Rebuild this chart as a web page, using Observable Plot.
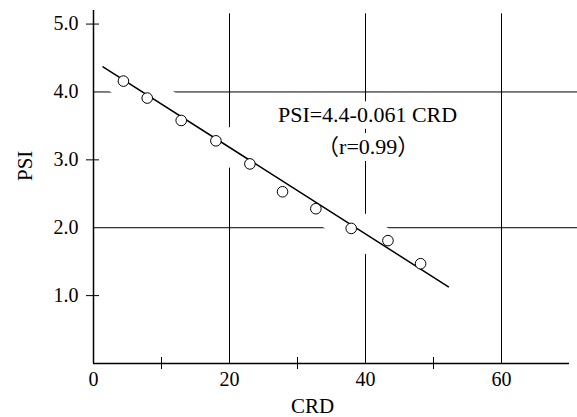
<!DOCTYPE html>
<html>
<head>
<meta charset="utf-8">
<script src="https://cdn.jsdelivr.net/npm/d3@7"></script>
<script src="https://cdn.jsdelivr.net/npm/@observablehq/plot@0.6"></script>
<style>
  html, body { margin: 0; padding: 0; background: white; }
</style>
</head>
<body>
<div id="chart"></div>
<script>
// Observed points
const crd = [4.4, 7.9, 12.9, 18.0, 23.0, 27.8, 32.7, 37.9, 43.3, 48.1];
const psi = [4.16, 3.91, 3.58, 3.28, 2.94, 2.53, 2.28, 1.99, 1.81, 1.47];
// Regression line end points as drawn
const fitCrd = [1.4, 52.2];
const fitPsi = [4.37, 1.13];
// Ticks and grid
const xTickLabels = [0, 20, 40, 60];
const xMinorTicks = [10, 30, 50];
const yTickLabels = [1, 2, 3, 4, 5];
const yMinorTicks = [1, 3, 5];
const gridX = [20, 40, 60];
const gridY = [2, 4];
// Annotation
const equationText = "PSI=4.4-0.061 CRD";
const rText = "（r=0.99）";
const xTitle = "CRD";
const yTitle = "PSI";

const points = crd.map((c, i) => ({crd: c, psi: psi[i]}));
const fit = fitCrd.map((c, i) => ({crd: c, psi: fitPsi[i]}));

const serif = "'Liberation Serif', 'Times New Roman', 'Noto Sans CJK JP', serif";

const chart = Plot.plot({
  width: 577,
  height: 417,
  marginLeft: 93,
  marginRight: 8,
  marginTop: 10,
  marginBottom: 54,
  x: {domain: [0, 70]},
  y: {domain: [0, 5.2]},
  style: {fontFamily: serif, fontSize: "20px", background: "white", color: "black"},
  marks: [
    // grid lines
    Plot.ruleX(gridX, {y1: 0, y2: 5.15, stroke: "black", strokeWidth: 1}),
    Plot.ruleY(gridY, {x1: 0, x2: 71.2, stroke: "black", strokeWidth: 1}),
    // white halo around regression line (gaps in grid)
    Plot.line(fit, {x: "crd", y: "psi", stroke: "white", strokeWidth: 34, strokeLinecap: "butt"}),
    // axis lines
    Plot.ruleX([0], {y1: 0, y2: 5.2, stroke: "black", strokeWidth: 1.5}),
    Plot.ruleY([0], {x1: 0, x2: 70, stroke: "black", strokeWidth: 1.5}),
    // axes
    Plot.axisX(xTickLabels, {tickSize: 0, tickPadding: 8, label: null, fontSize: 20}),
    Plot.axisX(xMinorTicks, {tickSize: 6, tickFormat: () => "", label: null}),
    Plot.axisX(xMinorTicks, {tickSize: -6, tickFormat: () => "", label: null}),
    Plot.axisY(yTickLabels, {tickSize: 0, tickPadding: 15, tickFormat: d => d.toFixed(1), label: null, fontSize: 20}),
    Plot.axisY(yMinorTicks, {tickSize: 7, tickFormat: () => "", label: null}),
    Plot.axisY(yMinorTicks, {tickSize: -6, tickFormat: () => "", label: null}),
    // regression line
    Plot.line(fit, {x: "crd", y: "psi", stroke: "black", strokeWidth: 1.5}),
    // points
    Plot.dot(points, {x: "crd", y: "psi", r: 5.3, fill: "white", stroke: "black", strokeWidth: 1}),
    // annotation
    Plot.text([equationText], {x: 40.3, y: 3.66, text: d => d, fontSize: 22, fill: "black", stroke: "white", strokeWidth: 14, lineAnchor: "middle"}),
    Plot.text([rText], {x: 40.4, y: 3.19, text: d => d, fontSize: 22, fill: "black", stroke: "white", strokeWidth: 14, lineAnchor: "middle"}),
    // axis titles
    Plot.text([xTitle], {frameAnchor: "bottom", text: d => d, dx: -19, dy: 43, fontSize: 21, lineAnchor: "middle"}),
    Plot.text([yTitle], {frameAnchor: "left", text: d => d, rotate: -90, dx: -68, dy: -6, fontSize: 21, lineAnchor: "middle"})
  ]
});
document.getElementById("chart").appendChild(chart);
</script>
</body>
</html>
